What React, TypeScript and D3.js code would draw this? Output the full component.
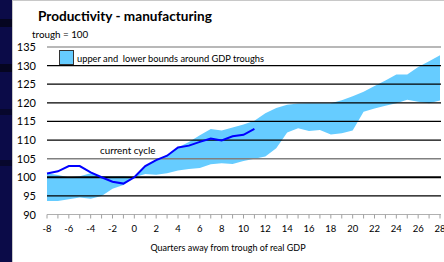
import React from "react";
import * as d3 from "d3";

const quarters = d3.range(-8, 29);
const upperBound = [101.1, 100.6, 100.0, 100.3, 101.1, 100.3, 100.2, 100.3, 100.0, 103.0, 104.5, 106.0, 108.0, 109.5, 111.3, 113.0, 112.6, 113.4, 114.2, 115.2, 117.2, 118.6, 119.5, 119.8, 119.9, 119.9, 119.9, 120.7, 121.8, 123.0, 124.5, 126.0, 127.6, 127.6, 129.6, 131.2, 132.8];
const lowerBound = [93.6, 93.6, 94.1, 94.6, 94.2, 95.0, 96.9, 97.9, 100.0, 100.9, 100.7, 101.1, 101.8, 102.2, 102.5, 103.5, 103.8, 103.6, 104.4, 105.0, 105.6, 107.8, 112.0, 113.2, 112.4, 112.7, 111.5, 111.8, 112.6, 117.6, 118.5, 119.2, 119.9, 120.8, 120.3, 119.9, 120.6];
const currentQuarters = d3.range(-8, 12);
const currentCycle = [101.0, 101.6, 103.0, 103.0, 101.3, 100.0, 98.8, 98.3, 100.0, 103.0, 104.6, 105.8, 108.0, 108.5, 109.5, 110.4, 109.9, 111.0, 111.4, 113.0];
const yTicks = [90, 95, 100, 105, 110, 115, 120, 125, 130, 135];
const xTickLabels = d3.range(-8, 29, 2);

const W = 444;
const H = 262;
const font = "Lato, 'Open Sans', sans-serif";

export default function App() {
  const x = d3.scaleLinear().domain([-8, 28]).range([47, 440]);
  const y = d3.scaleLinear().domain([90, 135]).range([214.5, 47]);

  const bandData = quarters.map((q, i) => ({ q, lo: lowerBound[i], hi: upperBound[i] }));
  const area = d3
    .area<{ q: number; lo: number; hi: number }>()
    .x((d) => x(d.q))
    .y0((d) => y(d.lo))
    .y1((d) => y(d.hi));
  const line = d3
    .line<number>()
    .x((_, i) => x(currentQuarters[i]))
    .y((d) => y(d));

  const gridStyle = (v: number) => {
    if (v === 135) return { stroke: "#a0a0a0", w: 1.5 };
    if (v === 105) return { stroke: "#808080", w: 1.5 };
    if (v === 100) return { stroke: "#000", w: 2 };
    if (v === 90) return { stroke: "#b0b0b0", w: 1 };
    return { stroke: "#000", w: 1.2 };
  };

  return (
    <svg
      width={W}
      height={H}
      style={{ position: "absolute", left: 0, top: 0, display: "block" }}
      fontFamily={font}
    >
      <rect x={0} y={0} width={W} height={H} fill="#fff" />
      {/* left dark strip */}
      <rect x={0} y={0} width={12} height={H} fill="#0b0b48" />
      <rect x={0} y={19} width={12} height={8} fill="#050520" />
      <rect x={0} y={64} width={12} height={8} fill="#050520" />
      <rect x={0} y={109} width={12} height={6} fill="#07072c" />
      <rect x={0} y={160} width={12} height={6} fill="#07072c" />
      <line x1={12.5} y1={0} x2={12.5} y2={H} stroke="#c8c8c8" />
      <line x1={12} y1={0.5} x2={W} y2={0.5} stroke="#c8c8c8" />

      <text x={38} y={21} fontSize={13.6} fontWeight="bold" fill="#000">
        Productivity - manufacturing
      </text>
      <text x={32} y={38} fontSize={9.8} fill="#000">
        trough = 100
      </text>

      <path d={area(bandData) || ""} fill="#66ccff" stroke="none" />

      {yTicks.map((v) => {
        const s = gridStyle(v);
        return (
          <g key={v}>
            <line x1={47} x2={441} y1={y(v)} y2={y(v)} stroke={s.stroke} strokeWidth={s.w} />
            <text x={36} y={y(v) + 4} fontSize={11} textAnchor="end" fill="#000">
              {v}
            </text>
          </g>
        );
      })}

      {quarters.map((q) => (
        <line key={q} x1={x(q)} x2={x(q)} y1={y(90)} y2={y(90) + 4} stroke="#a0a0a0" strokeWidth={1} />
      ))}
      {xTickLabels.map((q) => (
        <text key={q} x={x(q)} y={232} fontSize={9.5} textAnchor="middle" fill="#000">
          {q}
        </text>
      ))}

      <path d={line(currentCycle) || ""} fill="none" stroke="#0000ff" strokeWidth={2} />

      {/* legend */}
      <rect x={55} y={49} width={210} height={16} fill="#fff" />
      <rect x={59.5} y={50.5} width={14} height={14} fill="#66ccff" stroke="#333" strokeWidth={1} />
      <text x={77} y={61.5} fontSize={9.3} fill="#000" style={{ whiteSpace: "pre" }}>
        {"upper and  lower bounds around GDP troughs"}
      </text>

      <text x={100} y={154} fontSize={9.8} fill="#000">
        current cycle
      </text>

      <text x={228} y={251} fontSize={9} textAnchor="middle" fill="#000">
        Quarters away from trough of real GDP
      </text>
    </svg>
  );
}
